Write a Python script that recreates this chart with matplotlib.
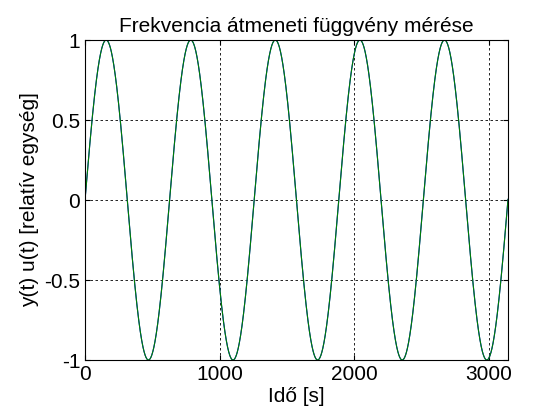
import numpy as np
import matplotlib
matplotlib.use("Agg")
import matplotlib.pyplot as plt

plt.rcParams['font.family'] = ['Liberation Sans', 'DejaVu Sans']

t_end = 3142.0
omega = 0.01  # rad/s
t = np.linspace(0, t_end, 3000)
u = np.sin(omega * t)
y = np.sin(omega * t)

xticks = [0, 1000, 2000, 3000]
yticks = [-1, -0.5, 0, 0.5, 1]

fig = plt.figure(figsize=(5.6, 4.2), dpi=100)
ax = fig.add_axes([85/560, 60/420, 423/560, 320/420])
ax.plot(t, u, color='blue', lw=0.8)
ax.plot(t, y, color='green', lw=0.8)
ax.set_xlim(0, t_end)
ax.set_ylim(-1, 1)
ax.set_xticks(xticks)
ax.set_yticks(yticks)
ax.set_yticklabels(['-1', '-0.5', '0', '0.5', '1'])
ax.grid(True, color='black', linestyle=(0, (3, 3)), lw=0.6)
ax.tick_params(labelsize=15, direction='in', top=True, right=True)
ax.set_title('Frekvencia átmeneti függvény mérése', fontsize=15)
ax.set_xlabel('Idő [s]', fontsize=15, labelpad=2)
ax.set_ylabel('y(t) u(t) [relatív egység]', fontsize=15)
for s in ax.spines.values():
    s.set_linewidth(0.8)
fig.savefig('out.png', dpi=100)
